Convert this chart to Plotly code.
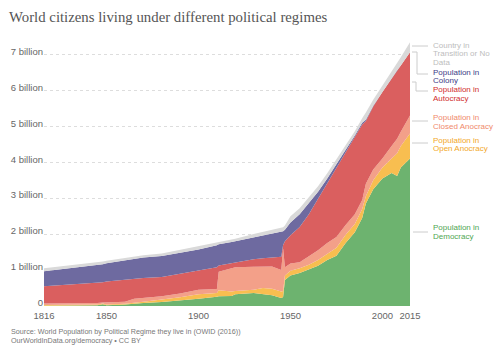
import plotly.graph_objects as go

years = [1816, 1825, 1835, 1845, 1848, 1850, 1860, 1865, 1870, 1880, 1890, 1900,
         1910, 1911, 1918, 1920, 1930, 1935, 1940, 1945, 1946, 1947, 1950, 1955,
         1960, 1965, 1970, 1975, 1980, 1985, 1989, 1991, 1995, 2000, 2005, 2008,
         2010, 2015]

# values in billions
democracy = [0.01, 0.01, 0.01, 0.02, 0.05, 0.02, 0.04, 0.05, 0.08, 0.11, 0.15, 0.20,
             0.26, 0.27, 0.28, 0.33, 0.36, 0.33, 0.30, 0.22, 0.25, 0.72, 0.85, 0.92,
             1.02, 1.12, 1.28, 1.40, 1.75, 2.05, 2.45, 2.85, 3.25, 3.55, 3.70, 3.62,
             3.85, 4.10]
open_anocracy = [0.02, 0.02, 0.02, 0.02, 0.02, 0.02, 0.02, 0.03, 0.04, 0.07, 0.09, 0.13,
                 0.10, 0.17, 0.12, 0.09, 0.09, 0.17, 0.18, 0.18, 0.17, 0.13, 0.13, 0.13,
                 0.13, 0.16, 0.17, 0.22, 0.23, 0.23, 0.25, 0.20, 0.25, 0.30, 0.40, 0.63,
                 0.60, 0.70]
closed_anocracy = [0.04, 0.04, 0.04, 0.04, 0.03, 0.06, 0.06, 0.12, 0.10, 0.09, 0.11, 0.12,
                   0.11, 0.51, 0.65, 0.66, 0.64, 0.59, 0.62, 0.60, 1.18, 0.23, 0.20, 0.17,
                   0.23, 0.27, 0.30, 0.30, 0.27, 0.27, 0.25, 0.35, 0.30, 0.25, 0.35, 0.40,
                   0.40, 0.50]
autocracy = [0.48, 0.51, 0.54, 0.56, 0.56, 0.58, 0.62, 0.56, 0.56, 0.54, 0.55, 0.55,
             0.61, 0.18, 0.15, 0.14, 0.21, 0.24, 0.25, 0.37, 0.10, 0.72, 0.79, 0.98,
             1.17, 1.43, 1.65, 1.93, 2.00, 2.13, 2.10, 1.75, 1.75, 1.85, 1.87, 1.90,
             1.83, 1.76]
colony = [0.42, 0.44, 0.46, 0.49, 0.50, 0.51, 0.54, 0.56, 0.57, 0.58, 0.58, 0.57,
          0.61, 0.59, 0.58, 0.58, 0.62, 0.64, 0.67, 0.69, 0.38, 0.32, 0.35, 0.35,
          0.30, 0.20, 0.15, 0.10, 0.07, 0.06, 0.05, 0.03, 0.02, 0.01, 0.01, 0.01,
          0.01, 0.00]
transition = [0.08, 0.08, 0.08, 0.08, 0.08, 0.07, 0.06, 0.06, 0.06, 0.07, 0.08, 0.08,
              0.07, 0.06, 0.06, 0.07, 0.08, 0.09, 0.10, 0.10, 0.11, 0.12, 0.18, 0.17,
              0.17, 0.15, 0.14, 0.12, 0.13, 0.12, 0.12, 0.20, 0.17, 0.17, 0.19, 0.20,
              0.23, 0.28]

series_names = ["Population in Democracy", "Population in Open Anocracy",
                "Population in Closed Anocracy", "Population in Autocracy",
                "Population in Colony", "Country in Transition or No Data"]
series_values = [democracy, open_anocracy, closed_anocracy, autocracy, colony, transition]
fill_colors = ["#6db36f", "#f8be50", "#f3a089", "#da5f5f", "#6e6aa0", "#d9d9d9"]

y_tick_vals = [0, 1, 2, 3, 4, 5, 6, 7]
y_tick_text = ["0", "1 billion", "2 billion", "3 billion", "4 billion",
               "5 billion", "6 billion", "7 billion"]
x_tick_vals = [1816, 1850, 1900, 1950, 2000, 2015]

W, H = 500, 353
ML, MR, MT, MB = 44, 90, 40, 47
PW, PH = W - ML - MR, H - MT - MB


def px(x):
    return (x - ML) / PW


def py(y):
    return (H - MB - y) / PH


fig = go.Figure()
for name, vals, col in zip(series_names, series_values, fill_colors):
    fig.add_trace(go.Scatter(
        x=years, y=vals, name=name, mode="lines", stackgroup="one",
        line=dict(width=0, color=col), fillcolor=col, hoverinfo="x+y+name"))

# right-side labels: (lines, color, top-line center y, connector points)
labels = [
    (["Country in", "Transition or No", "Data"], "#bdbdbd", 45,
     [(412, 46), (428, 46)]),
    (["Population in", "Colony"], "#3e3c86", 72,
     [(412, 52), (417, 52), (417, 74), (428, 74)]),
    (["Population in", "Autocracy"], "#d12d2d", 89.5,
     [(412, 82), (416, 82), (416, 91), (428, 91)]),
    (["Population in", "Closed Anocracy"], "#f08a6c", 117.5,
     [(412, 121), (428, 121)]),
    (["Population in", "Open Anocracy"], "#f2a727", 140,
     [(412, 143), (428, 143)]),
    (["Population in", "Democracy"], "#4fa653", 227.5,
     [(413, 232), (428, 232)]),
]
annotations = []
shapes = []
for lines, col, y0, pts in labels:
    for i, t in enumerate(lines):
        annotations.append(dict(
            x=px(431), y=py(y0 + i * 8.6), xref="paper", yref="paper",
            text=t, showarrow=False, xanchor="left", yanchor="middle",
            font=dict(family="Liberation Sans, Arial", size=8, color=col)))
    path = "M " + " L ".join(f"{px(a)},{py(b)}" for a, b in pts)
    shapes.append(dict(type="path", xref="paper", yref="paper", path=path,
                       line=dict(color="#cccccc", width=1)))

footer = [("Source: World Population by Political Regime they live in (OWID (2016))", 331.3),
          ("OurWorldInData.org/democracy • CC BY", 340.7)]
for t, yy in footer:
    annotations.append(dict(
        x=px(9), y=py(yy), xref="paper", yref="paper", text=t,
        showarrow=False, xanchor="left", yanchor="middle",
        font=dict(family="Liberation Sans, Arial", size=7.2, color="#777777")))

fig.update_layout(
    width=W, height=H,
    margin=dict(l=ML, r=MR, t=MT, b=MB),
    paper_bgcolor="white", plot_bgcolor="white",
    showlegend=False,
    title=dict(text="World citizens living under different political regimes",
               x=9 / W, xanchor="left", xref="container",
               y=1 - 16.5 / H, yanchor="middle", yref="container",
               font=dict(family="Liberation Serif, Times New Roman, serif",
                         size=14.8, color="#555555")),
    xaxis=dict(range=[1816, 2015], tickvals=x_tick_vals, showgrid=False,
               zeroline=False, showline=False, ticks="", ticklabelstandoff=2,
               tickfont=dict(family="Liberation Sans, Arial", size=9.5, color="#666666")),
    yaxis=dict(range=[0, 7.4], tickvals=y_tick_vals, ticktext=y_tick_text,
               showgrid=True, gridcolor="#dddddd", griddash="dot", gridwidth=1,
               zeroline=False, showline=False, ticks="", ticklabelshift=-3,
               tickfont=dict(family="Liberation Sans, Arial", size=9.5, color="#666666")),
    annotations=annotations, shapes=shapes,
)

fig.write_html("out.html")
